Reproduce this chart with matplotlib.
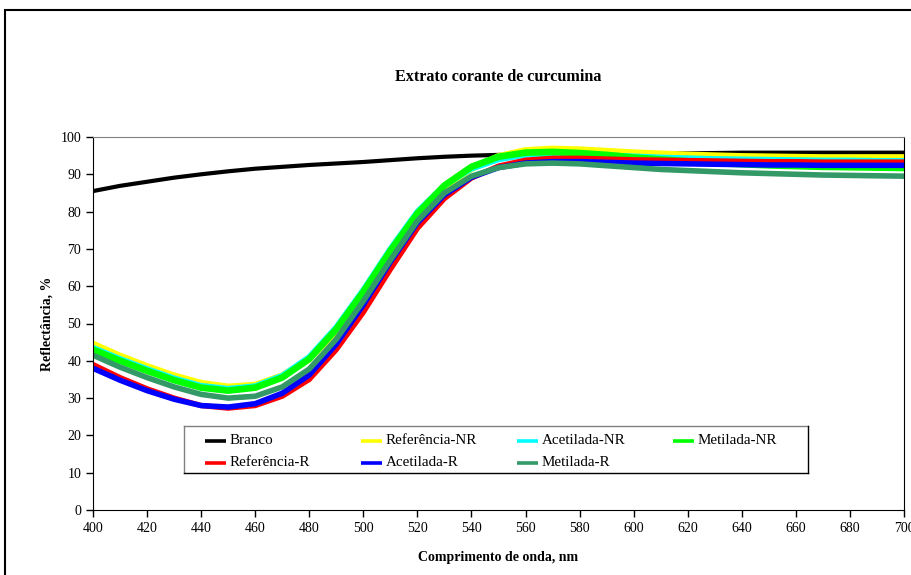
import numpy as np
import matplotlib.pyplot as plt
from matplotlib.patches import Rectangle
from matplotlib.lines import Line2D

plt.rcParams['font.family'] = ['Liberation Serif', 'DejaVu Serif']

# Espectros de reflectância (400-700 nm, passo 10 nm)
wavelength = np.arange(400, 701, 10)

branco = [85.5, 86.9, 88.0, 89.1, 90.0, 90.8, 91.5, 92.0, 92.5, 92.9, 93.3,
          93.8, 94.3, 94.7, 95.0, 95.2, 95.3, 95.4, 95.5, 95.5, 95.5, 95.6,
          95.6, 95.7, 95.8, 95.8, 95.8, 95.8, 95.8, 95.8, 95.8]
referencia_nr = [44.5, 41.3, 38.5, 36.0, 34.0, 33.0, 33.5, 36.0, 40.5, 48.0, 57.5,
                 68.5, 79.0, 86.5, 91.5, 94.8, 96.4, 96.8, 96.6, 96.2, 95.8, 95.5,
                 95.2, 95.0, 94.8, 94.7, 94.6, 94.5, 94.5, 94.5, 94.5]
acetilada_nr = [43.5, 40.5, 37.8, 35.3, 33.3, 32.5, 33.2, 36.0, 41.0, 49.0, 59.0,
                70.0, 80.0, 87.0, 91.5, 94.0, 95.2, 95.5, 95.4, 95.1, 94.8, 94.5,
                94.3, 94.1, 94.0, 93.9, 93.8, 93.7, 93.7, 93.6, 93.6]
metilada_nr = [43.0, 40.0, 37.3, 34.8, 32.8, 32.0, 32.8, 35.5, 40.5, 48.5, 58.5,
               69.5, 79.5, 87.0, 92.0, 94.7, 95.8, 96.0, 95.7, 95.2, 94.5, 94.0,
               93.5, 93.0, 92.7, 92.4, 92.2, 92.0, 91.9, 91.8, 91.7]
referencia_r = [39.0, 35.5, 32.5, 30.0, 28.0, 27.3, 28.0, 30.5, 35.0, 43.0, 53.0,
                64.5, 75.5, 83.5, 89.0, 92.2, 93.8, 94.3, 94.3, 94.1, 93.9, 93.8,
                93.7, 93.6, 93.5, 93.4, 93.4, 93.3, 93.3, 93.3, 93.3]
acetilada_r = [38.0, 34.8, 32.0, 29.7, 28.0, 27.6, 28.5, 31.3, 36.2, 44.5, 55.0,
               66.5, 77.0, 84.5, 89.2, 91.8, 93.0, 93.4, 93.4, 93.2, 93.0, 92.9,
               92.8, 92.7, 92.6, 92.5, 92.5, 92.4, 92.4, 92.4, 92.4]
metilada_r = [41.5, 38.3, 35.5, 33.0, 31.0, 30.0, 30.5, 33.0, 37.8, 45.8, 56.0,
              67.0, 77.5, 85.0, 89.5, 91.8, 92.8, 93.0, 92.8, 92.3, 91.8, 91.3,
              91.0, 90.7, 90.4, 90.2, 90.0, 89.8, 89.7, 89.6, 89.5]

series = [
    ('Branco', branco, '#000000', 3.0),
    ('Referência-NR', referencia_nr, '#FFFF00', 4.8),
    ('Acetilada-NR', acetilada_nr, '#00FFFF', 4.2),
    ('Metilada-NR', metilada_nr, '#00FF00', 4.8),
    ('Referência-R', referencia_r, '#FF0000', 3.8),
    ('Acetilada-R', acetilada_r, '#0000FF', 4.0),
    ('Metilada-R', metilada_r, '#339966', 4.0),
]

W, H = 912, 575
fig = plt.figure(figsize=(W / 100, H / 100), dpi=100)
ax = fig.add_axes([93 / W, 1 - 510 / H, 811 / W, 373 / H])


def px(x, y):
    # pixel (a partir do canto superior esquerdo) -> coordenadas da figura
    return x / W, 1 - y / H


# moldura exterior do gráfico
fig.patches.append(Rectangle(px(5, H + 50), 1.2, (H + 40) / H,
                             transform=fig.transFigure, fill=False,
                             edgecolor='black', linewidth=1.5, clip_on=False))

for name, vals, color, lw in series:
    ax.plot(wavelength, vals, color=color, linewidth=lw,
            solid_joinstyle='round', solid_capstyle='butt', label=name)

ax.set_xlim(400, 700)
ax.set_ylim(0, 100)
ax.set_xticks(np.arange(400, 701, 20))
ax.set_yticks(np.arange(0, 101, 10))
ax.tick_params(direction='out', length=5, width=1, labelsize=10)
for side in ['left', 'bottom', 'right']:
    ax.spines[side].set_color('black')
ax.spines['top'].set_color('#808080')

ax.set_title('Extrato corante de curcumina', fontsize=11.6, fontweight='bold', pad=40)
ax.set_xlabel('Comprimento de onda, nm', fontsize=10, fontweight='bold', labelpad=12)
ax.set_ylabel('Reflectância, %', fontsize=10, fontweight='bold', labelpad=5)

# legenda em grelha fixa: 4 entradas na primeira linha, 3 na segunda
box_l, box_t, box_r, box_b = 184, 426, 808, 473
frame = [((box_l, box_t), (box_r, box_t), '#808080'),
         ((box_l, box_t), (box_l, box_b), '#808080'),
         ((box_l, box_b), (box_r, box_b), 'black'),
         ((box_r, box_t), (box_r, box_b), 'black')]
for p0, p1, c in frame:
    (x0, y0), (x1, y1) = px(*p0), px(*p1)
    fig.add_artist(Line2D([x0, x1], [y0, y1], color=c, linewidth=1.0))

col_x = [205, 361, 517, 673]
row_y = [440.5, 462.5]
for i, (name, vals, color, lw) in enumerate(series):
    row, col = divmod(i, 4)
    hx, hy = col_x[col], row_y[row]
    (x0, y0), (x1, _) = px(hx, hy), px(hx + 21, hy)
    fig.add_artist(Line2D([x0, x1], [y0, y0], color=color, linewidth=2.6,
                          solid_capstyle='butt'))
    tx, ty = px(hx + 25, hy)
    fig.text(tx, ty, name, fontsize=10.8, ha='left', va='center')

fig.savefig('out.png', dpi=100)
